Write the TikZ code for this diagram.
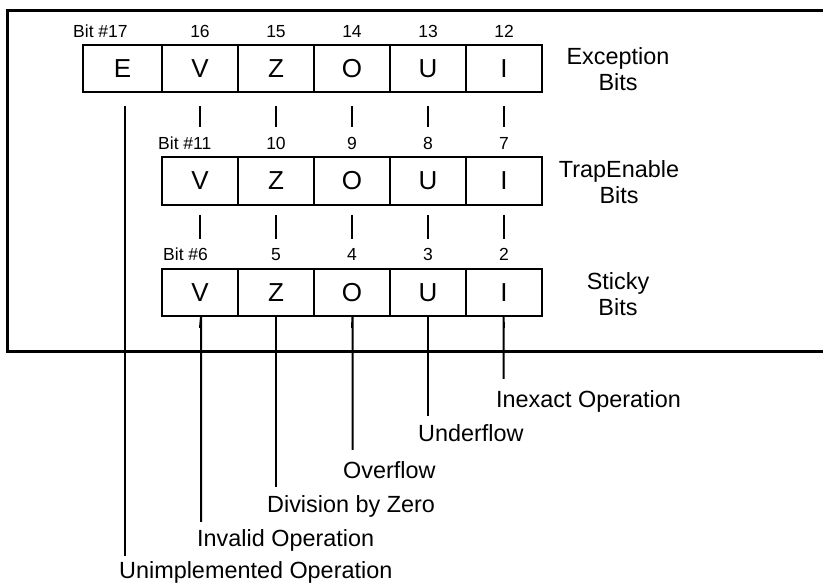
\documentclass[tikz,border=0pt]{standalone}
\usepackage{fontspec}
\setmainfont{Liberation Sans}
\begin{document}
\begin{tikzpicture}[x=1pt,y=-1pt,
  cell/.style={draw, line width=1.7pt, minimum width=76pt, minimum height=47pt, inner sep=0pt, font=\fontsize{26}{30}\selectfont},
  bitlbl/.style={anchor=base, inner sep=0pt, font=\fontsize{17.5}{20}\selectfont},
  bitlblw/.style={anchor=base west, inner sep=0pt, font=\fontsize{17.5}{20}\selectfont},
  side/.style={align=center, inner sep=0pt, font=\fontsize{23.4}{26}\selectfont},
  desc/.style={anchor=base west, inner sep=0pt, font=\fontsize{23.4}{26}\selectfont},
  stub/.style={line width=2pt},
  frame/.style={line width=3pt}]
\useasboundingbox (0,0) rectangle (823,585);

% outer frame (open on the right)
\coordinate (ftr) at (823,11);
\coordinate (ftl) at (7,11);
\coordinate (fbl) at (7,352);
\coordinate (fbr) at (823,352);
\draw[frame] (ftr) -- (ftl) -- (fbl) -- (fbr);

% row 1: exception bits
\node[cell, minimum width=79pt] (e1) at (122.5,68.5) {E};
\node[bitlblw] (b17) at (73,38) {Bit \#17};
\foreach \col/\x/\num in {V/200/16, Z/276/15, O/352/14, U/428/13, I/504/12} {
  \node[cell] (r1\col) at (\x,68.5) {\col};
  \node[bitlbl] (n1\col) at ([yshift=7pt]r1\col.north) {\num};
}
\node[side] (exc) at (618,69.6) {Exception\\Bits};

% row 2: trap enable bits
\foreach \col/\x in {V/200, Z/276, O/352, U/428, I/504} {
  \node[cell, minimum height=48pt] (r2\col) at (\x,181) {\col};
}
\foreach \col/\num in {Z/10, O/9, U/8, I/7} {
  \node[bitlbl] (n2\col) at ([yshift=7pt]r2\col.north) {\num};
}
\node[bitlblw] (b11) at (158,150) {Bit \#11};
\node[side] (trp) at (619,182.3) {TrapEnable\\Bits};

% row 3: sticky bits
\foreach \col/\x in {V/200, Z/276, O/352, U/428, I/504} {
  \node[cell] (r3\col) at (\x,292.5) {\col};
}
\foreach \col/\num in {Z/5, O/4, U/3, I/2} {
  \node[bitlbl] (n3\col) at ([yshift=8pt]r3\col.north) {\num};
}
\node[bitlblw] (b6) at (163,261) {Bit \#6};
\node[side] (stk) at (618,294.6) {Sticky\\Bits};

% stubs between rows
\foreach \col in {V,Z,O,U,I} {
  \draw[stub] ([yshift=-13pt]r1\col.south) -- ([yshift=29pt]r2\col.north);
  \draw[stub] ([yshift=-9pt]r2\col.south) -- ([yshift=29pt]r3\col.north);
}

% descriptions
\node[desc] (dE) at (119,579) {Unimplemented Operation};
\node[desc] (dV) at (197,547) {Invalid Operation};
\node[desc] (dZ) at (267,512.7) {Division by Zero};
\node[desc] (dO) at (343,479) {Overflow};
\node[desc] (dU) at (418,441.7) {Underflow};
\node[desc] (dI) at (496,408) {Inexact Operation};

\coordinate (endE) at (124.5,556);
\coordinate (endV) at (201,522);
\coordinate (endZ) at (276,487);
\coordinate (endO) at (352.5,450);
\coordinate (endU) at (428,416);
\coordinate (endI) at (503.5,379);

\draw[stub] ([xshift=2pt,yshift=-13pt]e1.south) -- (endE);
\foreach \col in {V,Z,O,U,I} {
  \draw[stub] ([yshift=-11pt]r3\col.south) -- (end\col |- r3\col.south) -- (end\col);
}
\end{tikzpicture}
\end{document}
